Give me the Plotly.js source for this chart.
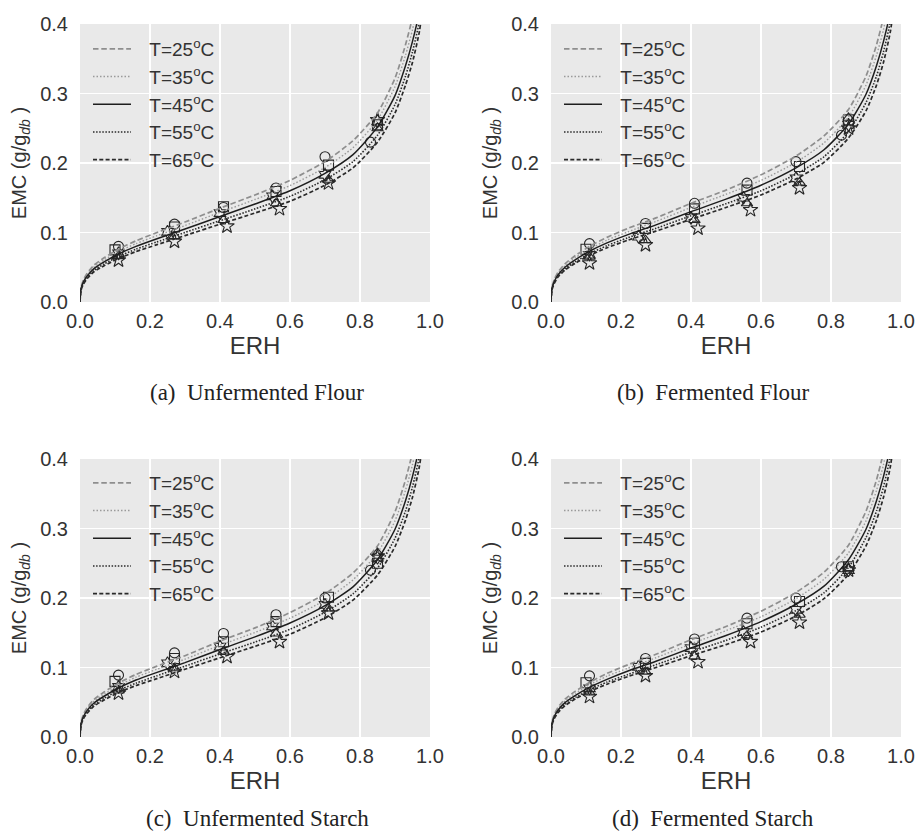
<!DOCTYPE html>
<html>
<head>
<meta charset="utf-8">
<script src="https://cdn.plot.ly/plotly-3.0.1.min.js"></script>
<style>html,body{margin:0;padding:0;background:#fff;}#chart{width:917px;height:832px;}</style>
</head>
<body>
<div id="chart"></div>
<script>
// ---- fitted isotherm curves (ERH grid) ----
const erhGrid = [0, 0.003, 0.01, 0.02, 0.04, 0.07, 0.11, 0.16, 0.22, 0.3, 0.4, 0.5, 0.6, 0.7, 0.78, 0.85, 0.9, 0.93, 0.95, 0.97, 0.985];

const fitA25 = [0, .021, .032, .041, .053, .064, .076, .088, .100, .115, .135, .154, .175, .202, .232, .272, .322, .370, .410, .470, .550];
const fitA35 = [0, .020, .0305, .039, .0505, .061, .0725, .084, .0955, .110, .129, .1475, .1675, .1935, .222, .262, .310, .355, .392, .445, .520];
const fitA45 = [0, .019, .029, .037, .048, .058, .069, .080, .091, .105, .123, .141, .160, .185, .212, .252, .297, .340, .375, .420, .490];
const fitA55 = [0, .018, .0275, .035, .0455, .055, .0655, .076, .0865, .100, .117, .134, .152, .176, .202, .240, .284, .325, .360, .405, .470];
const fitA65 = [0, .017, .026, .0335, .0435, .0525, .0625, .0725, .0825, .0955, .112, .128, .145, .168, .193, .230, .272, .312, .345, .390, .450];

const fitB25 = [0, .022, .033, .043, .055, .067, .080, .093, .106, .121, .142, .161, .183, .210, .239, .277, .325, .370, .410, .470, .550];
const fitB35 = [0, .021, .0315, .041, .052, .064, .076, .089, .101, .116, .136, .155, .175, .201, .229, .266, .312, .355, .392, .445, .520];
const fitB45 = [0, .020, .030, .039, .050, .061, .073, .085, .097, .111, .130, .148, .168, .193, .219, .256, .299, .340, .375, .420, .490];
const fitB55 = [0, .019, .0285, .037, .048, .058, .0695, .081, .0925, .106, .124, .1415, .160, .184, .209, .245, .287, .325, .360, .405, .470];
const fitB65 = [0, .018, .0275, .036, .046, .056, .067, .078, .089, .102, .119, .136, .154, .177, .201, .236, .275, .312, .345, .390, .450];

const fitC25 = [0, .021, .0325, .042, .054, .065, .0775, .090, .102, .117, .138, .157, .179, .206, .236, .275, .324, .370, .410, .470, .550];
const fitC35 = [0, .020, .031, .040, .0515, .062, .074, .086, .0975, .112, .132, .1505, .171, .197, .226, .265, .311, .355, .392, .445, .520];
const fitC45 = [0, .019, .0295, .038, .049, .059, .0705, .082, .093, .107, .126, .144, .164, .189, .216, .255, .299, .340, .375, .420, .490];
const fitC55 = [0, .018, .028, .036, .0465, .056, .067, .0775, .088, .102, .1195, .1365, .155, .1795, .206, .243, .286, .325, .360, .405, .470];
const fitC65 = [0, .017, .0265, .034, .0445, .0535, .064, .074, .084, .0975, .114, .1305, .148, .1715, .197, .233, .274, .312, .345, .390, .450];

const fitD25 = [0, .0215, .033, .0425, .0545, .066, .0785, .0915, .104, .119, .140, .159, .181, .208, .237, .276, .325, .370, .410, .470, .550];
const fitD35 = [0, .0205, .031, .0405, .052, .063, .075, .0875, .099, .114, .134, .153, .173, .199, .227, .265, .311, .355, .392, .445, .520];
const fitD45 = [0, .0195, .030, .0385, .0495, .060, .0715, .083, .095, .109, .128, .146, .166, .191, .217, .255, .299, .340, .375, .420, .490];
const fitD55 = [0, .0185, .0285, .0365, .047, .057, .068, .079, .090, .104, .122, .139, .158, .182, .2075, .244, .287, .325, .360, .405, .470];
const fitD65 = [0, .0175, .027, .035, .045, .055, .0655, .076, .087, .100, .117, .133, .151, .174, .199, .234, .275, .312, .345, .390, .450];

// ---- measured points: ERH per temperature ----
const erh25 = [0.11, 0.27, 0.41, 0.56, 0.70, 0.83];
const erh35 = [0.10, 0.27, 0.41, 0.56, 0.71, 0.85];
const erh45 = [0.11, 0.25, 0.40, 0.55, 0.70, 0.85];
const erh55 = [0.11, 0.27, 0.41, 0.56, 0.71, 0.85];
const erh65 = [0.11, 0.27, 0.42, 0.57, 0.71, 0.85];

// ---- measured EMC ----
const emcA25 = [0.080, 0.112, 0.136, 0.164, 0.209, 0.230];
const emcA35 = [0.075, 0.108, 0.137, 0.159, 0.197, 0.255];
const emcA45 = [0.070, 0.101, 0.128, 0.152, 0.183, 0.260];
const emcA55 = [0.066, 0.095, 0.118, 0.142, 0.176, 0.250];
const emcA65 = [0.060, 0.087, 0.109, 0.134, 0.171, 0.262];

const emcB25 = [0.084, 0.113, 0.142, 0.171, 0.202, 0.240];
const emcB35 = [0.076, 0.106, 0.134, 0.161, 0.195, 0.262];
const emcB45 = [0.068, 0.094, 0.121, 0.150, 0.178, 0.255];
const emcB55 = [0.065, 0.089, 0.118, 0.142, 0.172, 0.265];
const emcB65 = [0.056, 0.082, 0.106, 0.1325, 0.164, 0.250];

const emcC25 = [0.089, 0.121, 0.149, 0.176, 0.200, 0.240];
const emcC35 = [0.080, 0.113, 0.137, 0.166, 0.201, 0.250];
const emcC45 = [0.072, 0.106, 0.130, 0.159, 0.190, 0.258];
const emcC55 = [0.067, 0.099, 0.123, 0.149, 0.185, 0.265];
const emcC65 = [0.063, 0.094, 0.1155, 0.137, 0.178, 0.260];

const emcD25 = [0.088, 0.113, 0.141, 0.171, 0.200, 0.245];
const emcD35 = [0.078, 0.106, 0.135, 0.163, 0.195, 0.245];
const emcD45 = [0.070, 0.101, 0.128, 0.151, 0.183, 0.240];
const emcD55 = [0.064, 0.094, 0.116, 0.146, 0.176, 0.243];
const emcD65 = [0.058, 0.088, 0.108, 0.137, 0.165, 0.240];

const tempLabels = ['T=25<sup>o</sup>C', 'T=35<sup>o</sup>C', 'T=45<sup>o</sup>C', 'T=55<sup>o</sup>C', 'T=65<sup>o</sup>C'];
const captions = ['(a)  Unfermented Flour', '(b)  Fermented Flour', '(c)  Unfermented Starch', '(d)  Fermented Starch'];
const xTickVals = [0, 0.2, 0.4, 0.6, 0.8, 1.0];
const yTickVals = [0, 0.1, 0.2, 0.3, 0.4];

// ---- styles ----
const lineStyles = [
  {color: '#8e8e8e', width: 1.7, dash: '5.5px,2.8px'},
  {color: '#9a9a9a', width: 1.4, dash: '1.5px,2px'},
  {color: '#1e1e1e', width: 1.5, dash: 'solid'},
  {color: '#2a2a2a', width: 1.6, dash: '1.5px,1.6px'},
  {color: '#2a2a2a', width: 1.7, dash: '4px,2.3px'}
];
const symbols = ['circle-open', 'square-open', 'hexagram-open', 'triangle-up-open', 'star-open'];
const legendPad = '\u2002\u2009';

const panels = [
  {fits: [fitA25, fitA35, fitA45, fitA55, fitA65], emc: [emcA25, emcA35, emcA45, emcA55, emcA65], xa: 'x', ya: 'y', lg: 'legend'},
  {fits: [fitB25, fitB35, fitB45, fitB55, fitB65], emc: [emcB25, emcB35, emcB45, emcB55, emcB65], xa: 'x2', ya: 'y2', lg: 'legend2'},
  {fits: [fitC25, fitC35, fitC45, fitC55, fitC65], emc: [emcC25, emcC35, emcC45, emcC55, emcC65], xa: 'x3', ya: 'y3', lg: 'legend3'},
  {fits: [fitD25, fitD35, fitD45, fitD55, fitD65], emc: [emcD25, emcD35, emcD45, emcD55, emcD65], xa: 'x4', ya: 'y4', lg: 'legend4'}
];
const erhPts = [erh25, erh35, erh45, erh55, erh65];

const traces = [];
panels.forEach(p => {
  for (let i = 0; i < 5; i++) {
    traces.push({
      type: 'scatter', mode: 'markers', x: erhPts[i], y: p.emc[i], xaxis: p.xa, yaxis: p.ya,
      showlegend: false, hoverinfo: 'skip', cliponaxis: false,
      marker: {symbol: symbols[i], size: i === 4 ? 11 : 10, color: '#262626', line: {width: 1.1, color: '#262626'}}
    });
  }
  for (let i = 0; i < 5; i++) {
    traces.push({
      type: 'scatter', mode: 'lines', x: erhGrid, y: p.fits[i], xaxis: p.xa, yaxis: p.ya,
      name: legendPad + tempLabels[i], legend: p.lg, line: Object.assign({shape: 'spline', smoothing: 0.6}, lineStyles[i])
    });
  }
});

const W = 917, H = 832;
const xDomL = [80 / W, 430 / W], xDomR = [551 / W, 901 / W];
const yDomT = [1 - 302 / H, 1 - 24 / H], yDomB = [1 - 737 / H, 1 - 459 / H];
const tickFont = {family: 'Liberation Sans, Arial, sans-serif', size: 20, color: '#333'};

function xAx(dom, anchor) {
  return {domain: dom, anchor: anchor, range: [0, 1], tickvals: xTickVals, tickformat: '.1f',
    showgrid: true, gridcolor: '#ffffff', gridwidth: 1.5, zeroline: false, showline: false, ticks: '',
    tickfont: tickFont, ticklabelstandoff: 5,
    title: {text: 'ERH', font: {family: 'Liberation Sans, Arial, sans-serif', size: 24, color: '#333'}, standoff: 4}};
}
function yAx(dom, anchor) {
  return {domain: dom, anchor: anchor, range: [0, 0.4], tickvals: yTickVals, tickformat: '.1f',
    showgrid: true, gridcolor: '#ffffff', gridwidth: 1.5, zeroline: false, showline: false, ticks: '',
    tickfont: tickFont, ticklabelstandoff: 11,
    title: {text: 'EMC (g/g<sub><i>db</i></sub> )', font: {family: 'Liberation Sans, Arial, sans-serif', size: 20, color: '#333'}, standoff: 8}};
}
function lg(xpx, ypx) {
  return {x: xpx / W, y: 1 - ypx / H, xanchor: 'left', yanchor: 'top', bgcolor: 'rgba(0,0,0,0)',
    borderwidth: 0, itemwidth: 38, traceorder: 'normal', itemclick: false,
    font: {family: 'Liberation Sans, Arial, sans-serif', size: 19, color: '#333'}};
}

const capFont = {family: 'Liberation Serif, Times New Roman, serif', size: 23, color: '#222'};
const capPos = [[257, 392], [713, 392], [257, 818], [713, 818]];
const annotations = captions.map((c, i) => ({
  text: c, x: capPos[i][0] / W, y: 1 - capPos[i][1] / H, xref: 'paper', yref: 'paper',
  xanchor: 'center', yanchor: 'middle', showarrow: false, font: capFont
}));

const layout = {
  width: W, height: H, margin: {l: 0, r: 0, t: 0, b: 0},
  paper_bgcolor: '#ffffff', plot_bgcolor: '#e9e9e9',
  xaxis: xAx(xDomL, 'y'), yaxis: yAx(yDomT, 'x'),
  xaxis2: xAx(xDomR, 'y2'), yaxis2: yAx(yDomT, 'x2'),
  xaxis3: xAx(xDomL, 'y3'), yaxis3: yAx(yDomB, 'x3'),
  xaxis4: xAx(xDomR, 'y4'), yaxis4: yAx(yDomB, 'x4'),
  legend: lg(88, 30), legend2: lg(559, 30), legend3: lg(88, 464), legend4: lg(559, 464),
  annotations: annotations
};

Plotly.newPlot('chart', traces, layout, {staticPlot: true, displayModeBar: false});
</script>
</body>
</html>
